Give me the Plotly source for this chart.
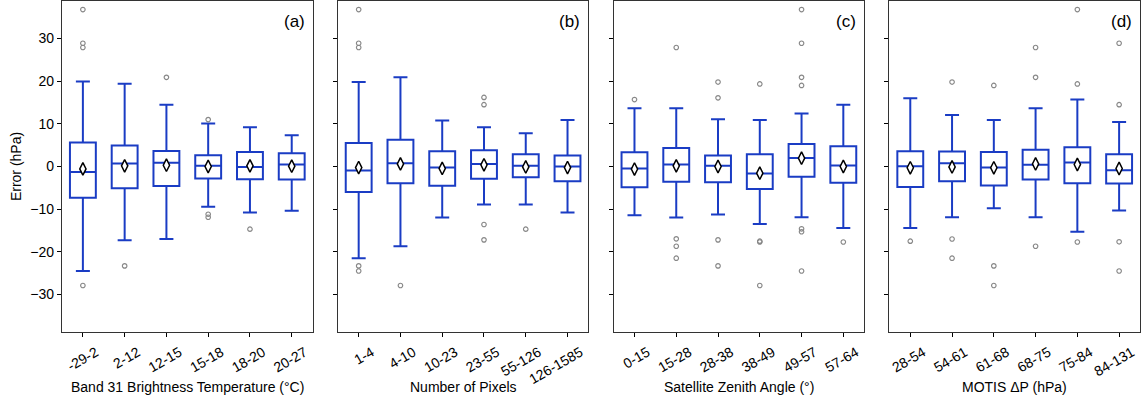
import plotly.graph_objects as go
from plotly.subplots import make_subplots

# ---------------- data ----------------
cats_a = ["-29-2", "2-12", "12-15", "15-18", "18-20", "20-27"]
cats_b = ["1-4", "4-10", "10-23", "23-55", "55-126", "126-1585"]
cats_c = ["0-15", "15-28", "28-38", "38-49", "49-57", "57-64"]
cats_d = ["28-54", "54-61", "61-68", "68-75", "75-84", "84-131"]

q1_a = [-7.3, -5.1, -4.6, -2.8, -3.0, -3.05]
med_a = [-1.3, 0.7, 0.85, 0.15, -0.1, 0.45]
q3_a = [5.6, 4.9, 3.65, 2.65, 3.4, 3.1]
lo_a = [-24.5, -17.3, -17.0, -9.45, -10.8, -10.4]
hi_a = [19.9, 19.4, 14.5, 10.1, 9.2, 7.3]
mean_a = [-0.56, 0.15, 0.3, 0.0, 0.15, 0.07]
out_a = [[36.8, 28.9, 27.9, -27.9], [-23.3], [20.9], [11.0, -11.2, -11.9], [-14.7], []]

q1_b = [-5.95, -3.9, -4.5, -2.9, -2.5, -3.45]
med_b = [-0.95, 0.77, -0.25, 0.6, 0.15, 0.0]
q3_b = [5.5, 6.25, 3.6, 3.8, 2.9, 2.6]
lo_b = [-21.5, -18.7, -11.95, -8.9, -8.9, -10.8]
hi_b = [19.8, 20.9, 10.8, 9.2, 7.8, 10.9]
mean_b = [-0.25, 0.6, -0.45, 0.4, -0.1, -0.25]
out_b = [[36.8, 28.9, 27.9, -23.3, -24.5], [-27.9], [], [16.2, 14.5, -13.6, -17.2], [-14.7], []]

q1_c = [-4.85, -3.6, -3.7, -5.3, -2.4, -3.8]
med_c = [-0.47, 0.47, 0.15, -1.65, 2.0, 0.23]
q3_c = [3.35, 4.36, 2.6, 2.9, 5.3, 4.75]
lo_c = [-11.4, -11.95, -11.25, -13.5, -11.9, -14.4]
hi_c = [13.65, 13.65, 11.1, 10.9, 12.4, 14.5]
mean_c = [-0.6, 0.15, 0.0, -1.57, 1.95, 0.0]
out_c = [[15.7], [27.9, -16.95, -18.7, -21.5], [19.8, 16.1, -17.2, -23.3],
         [19.35, -17.5, -17.7, -27.9], [36.8, 28.9, 20.9, 19.0, -14.6, -15.3, -24.5], [-17.7]]

q1_d = [-4.8, -3.45, -4.45, -3.05, -3.9, -4.0]
med_d = [0.07, 0.77, -0.25, 0.4, 0.93, -0.87]
q3_d = [3.6, 3.5, 3.4, 3.9, 4.5, 2.9]
lo_d = [-14.4, -11.9, -9.8, -11.9, -15.3, -10.3]
hi_d = [16.0, 12.1, 10.9, 13.65, 15.7, 10.45]
mean_d = [-0.3, -0.1, -0.3, 0.6, 0.47, -0.47]
out_d = [[-17.5], [19.8, -17.0, -21.5], [19.0, -23.3, -27.9], [27.9, 20.9, -18.7],
         [36.8, 19.35, -17.7], [28.9, 14.5, -17.65, -24.5]]

x_titles = ["Band 31 Brightness Temperature (°C)", "Number of Pixels",
            "Satellite Zenith Angle (°)", "MOTIS ΔP (hPa)"]
panel_letters = ["(a)", "(b)", "(c)", "(d)"]
y_ticks = [-30, -20, -10, 0, 10, 20, 30]

panels = [
    (cats_a, q1_a, med_a, q3_a, lo_a, hi_a, mean_a, out_a),
    (cats_b, q1_b, med_b, q3_b, lo_b, hi_b, mean_b, out_b),
    (cats_c, q1_c, med_c, q3_c, lo_c, hi_c, mean_c, out_c),
    (cats_d, q1_d, med_d, q3_d, lo_d, hi_d, mean_d, out_d),
]

# ---------------- style ----------------
BLUE = "#1a3cc4"
FONT = "Liberation Sans, Arial, sans-serif"
FRAME = "#333333"

fig = make_subplots(rows=1, cols=4)

for i, (cats, q1, med, q3, lo, hi, mn, outs) in enumerate(panels, start=1):
    fig.add_trace(go.Box(
        x=cats, q1=q1, median=med, q3=q3, lowerfence=lo, upperfence=hi,
        fillcolor="rgba(255,255,255,0)", line=dict(color=BLUE, width=2),
        width=0.62, whiskerwidth=0.54, boxpoints=False, showlegend=False,
        hoverinfo="skip"), row=1, col=i)
    ox, oy = [], []
    for c, vals in zip(cats, outs):
        for v in vals:
            ox.append(c)
            oy.append(v)
    fig.add_trace(go.Scatter(
        x=ox, y=oy, mode="markers", showlegend=False,
        marker=dict(symbol="circle-open", size=4.5, color="#888888", line=dict(width=1.2))),
        row=1, col=i)
    fig.add_trace(go.Scatter(
        x=cats, y=mn, mode="markers", showlegend=False,
        marker=dict(symbol="diamond-tall", size=9, color="white",
                    line=dict(color="black", width=1.5))),
        row=1, col=i)

W = 1078.0
w = 250.6
g = (W - 4 * w) / 3
for i in range(4):
    x0 = i * (w + g) / W
    x1 = (i * (w + g) + w) / W
    sfx = "" if i == 0 else str(i + 1)
    fig.layout["xaxis" + sfx].update(
        domain=[x0, x1], range=[-0.5, 5.5], type="category",
        tickangle=-30, ticks="outside", ticklen=4, tickcolor="black",
        ticklabelshift=13, ticklabelstandoff=2,
        showline=True, linecolor=FRAME, linewidth=1.2, mirror=True,
        showgrid=False, zeroline=False,
        tickfont=dict(family=FONT, size=14, color="black"))
    fig.layout["yaxis" + sfx].update(
        range=[-38.8, 38.8], tickvals=y_ticks, ticks="outside", ticklen=4, tickcolor="black",
        showticklabels=(i == 0), showline=True, linecolor=FRAME, linewidth=1.2, mirror=True,
        showgrid=False, zeroline=False,
        tickfont=dict(family=FONT, size=14, color="black"))
    fig.add_annotation(
        text=panel_letters[i], xref=f"x{sfx} domain", yref=f"y{sfx} domain",
        x=1, y=1, xanchor="right", yanchor="middle",
        xshift=-6, yshift=-20, showarrow=False,
        font=dict(family=FONT, size=17, color="black"))
    fig.add_annotation(
        text=x_titles[i], xref=f"x{sfx} domain", yref=f"y{sfx} domain",
        x=0.5, y=0, xanchor="center", yanchor="middle",
        yshift=-55, showarrow=False,
        font=dict(family=FONT, size=14, color="black"))

fig.layout.yaxis.title = dict(text="Error (hPa)", font=dict(family=FONT, size=14, color="black"), standoff=5)

fig.update_layout(
    width=1143, height=401,
    margin=dict(l=62, r=3, t=1, b=69),
    plot_bgcolor="white", paper_bgcolor="white",
    font=dict(family=FONT, size=14, color="black"),
    showlegend=False,
)

fig.write_html("out.html")
